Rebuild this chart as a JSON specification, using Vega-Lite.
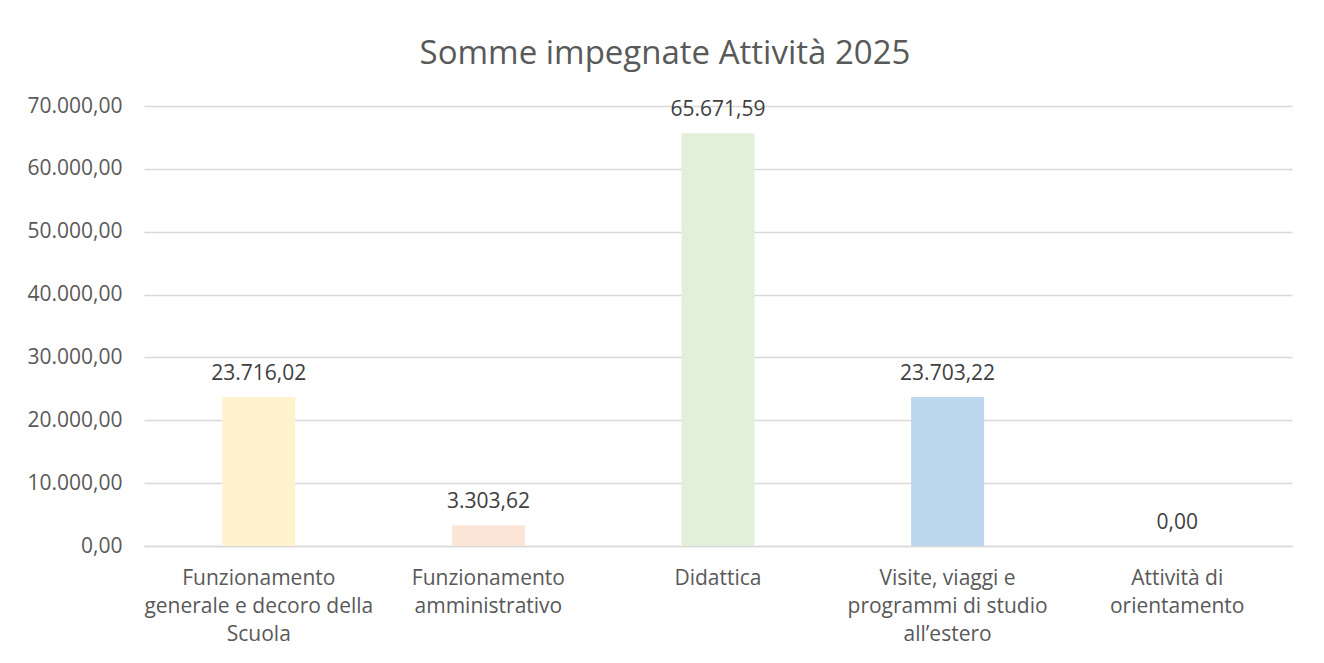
{
  "$schema": "https://vega.github.io/schema/vega-lite/v6.json",
  "autosize": {"type": "none"},
  "padding": {"left": 144, "top": 106, "right": 32, "bottom": 117},
  "width": 1148,
  "height": 440,
  "background": "white",
  "title": {
    "text": "Somme impegnate Attività 2025",
    "anchor": "middle",
    "frame": "group",
    "dx": -53,
    "baseline": "alphabetic",
    "offset": -2,
    "font": "Open Sans",
    "fontSize": 33,
    "fontWeight": "normal",
    "color": "#595959"
  },
  "data": {
    "values": [
      {"cat": "Funzionamento|generale e decoro della|Scuola", "value": 23716.02, "color": "#FFF2CC"},
      {"cat": "Funzionamento|amministrativo", "value": 3303.62, "color": "#FBE5D6"},
      {"cat": "Didattica", "value": 65671.59, "color": "#E2F0D9"},
      {"cat": "Visite, viaggi e|programmi di studio|all’estero", "value": 23703.22, "color": "#BDD7EE"},
      {"cat": "Attività di|orientamento", "value": 0, "color": "#A9A9A9"}
    ]
  },
  "encoding": {
    "x": {
      "field": "cat",
      "type": "nominal",
      "sort": null,
      "scale": {"paddingInner": 0.682, "paddingOuter": 0.341},
      "axis": {
        "title": null,
        "labelAngle": 0,
        "labelExpr": "split(datum.value, '|')",
        "labelFont": "Open Sans",
        "labelFontSize": 21,
        "labelColor": "#595959",
        "labelLineHeight": 28,
        "labelPadding": 21,
        "labelBaseline": "top",
        "labelLimit": 400,
        "ticks": false,
        "domain": true,
        "domainColor": "#D9D9D9",
        "domainWidth": 1.5,
        "grid": false
      }
    },
    "y": {
      "field": "value",
      "type": "quantitative",
      "scale": {"domain": [0, 70000], "nice": false},
      "axis": {
        "title": null,
        "values": [0, 10000, 20000, 30000, 40000, 50000, 60000, 70000],
        "format": ",.2f",
        "labelFont": "Open Sans",
        "labelFontSize": 21,
        "labelColor": "#595959",
        "labelPadding": 22,
        "ticks": false,
        "domain": false,
        "grid": true,
        "gridColor": "#D9D9D9",
        "gridWidth": 1.5
      }
    }
  },
  "layer": [
    {
      "mark": {"type": "bar"},
      "encoding": {
        "color": {"field": "color", "type": "nominal", "scale": null, "legend": null}
      }
    },
    {
      "mark": {
        "type": "text",
        "baseline": "alphabetic",
        "dy": -17,
        "font": "Open Sans",
        "fontSize": 21,
        "color": "#404040"
      },
      "encoding": {
        "text": {"field": "value", "type": "quantitative", "format": ",.2f"}
      }
    }
  ],
  "config": {
    "locale": {
      "number": {"decimal": ",", "thousands": ".", "grouping": [3], "currency": ["", " €"]}
    },
    "view": {"stroke": null}
  }
}
